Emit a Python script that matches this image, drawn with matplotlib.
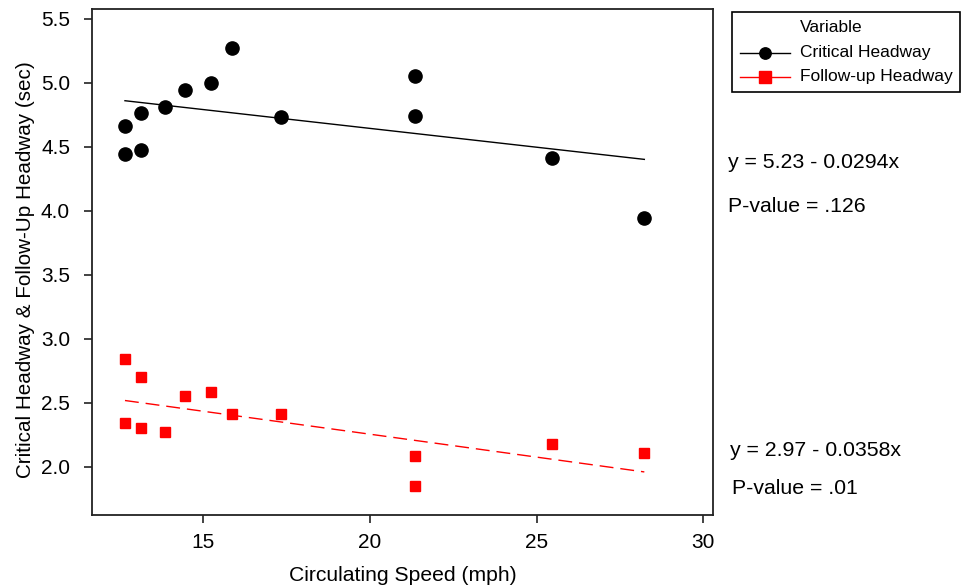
import matplotlib
matplotlib.use("Agg")
import matplotlib.pyplot as plt
from matplotlib.lines import Line2D
from matplotlib.patches import Rectangle
import numpy as np

plt.rcParams['font.family'] = ['Liberation Sans', 'DejaVu Sans']

# ---- data ----
speed = [12.65, 12.65, 13.13, 13.13, 13.85, 14.45, 15.23, 15.87, 17.33, 21.35, 21.35, 25.45, 28.23]
critical = [4.66, 4.44, 4.76, 4.47, 4.81, 4.94, 5.00, 5.27, 4.73, 5.05, 4.74, 4.41, 3.94]
followup = [2.84, 2.34, 2.70, 2.30, 2.27, 2.55, 2.58, 2.41, 2.41, 2.08, 1.85, 2.18, 2.11]

crit_fit = (5.23, -0.0294)
foll_fit = (2.97, -0.0358)

x_ticks = [15, 20, 25, 30]
y_ticks = [2.0, 2.5, 3.0, 3.5, 4.0, 4.5, 5.0, 5.5]

series_names = ["Critical Headway", "Follow-up Headway"]
legend_title = "Variable"
crit_text = ["y = 5.23 - 0.0294x", "P-value = .126"]
foll_text = ["y = 2.97 - 0.0358x", "P-value = .01"]

W, H = 961, 587
fig = plt.figure(figsize=(W / 100, H / 100), dpi=100)
ax = fig.add_axes([92.3 / W, 1 - 515 / H, (713 - 92.3) / W, (515 - 9.3) / H])

ax.plot(speed, critical, linestyle='none', marker='o', ms=9.5, color='black', zorder=3)
ax.plot(speed, followup, linestyle='none', marker='s', ms=7.8, color='#ff0000', zorder=3)

xs = np.array([min(speed), max(speed)])
ax.plot(xs, crit_fit[0] + crit_fit[1] * xs, color='black', lw=1.0)
ln, = ax.plot(xs, foll_fit[0] + foll_fit[1] * xs, color='#ff0000', lw=1.0)
ln.set_dashes([10, 5])

ax.set_xlim(11.67, 30.29)
ax.set_ylim(1.623, 5.572)
ax.set_xticks(x_ticks)
ax.set_xticklabels([str(t) for t in x_ticks])
ax.set_yticks(y_ticks)
ax.set_yticklabels([f"{t:.1f}" for t in y_ticks])
ax.tick_params(axis='both', direction='out', length=6, width=1.2, color='#222222')
ax.tick_params(axis='x', pad=7, labelsize=15)
ax.tick_params(axis='y', pad=10, labelsize=15)
for s in ax.spines.values():
    s.set_linewidth(1.3)
    s.set_color('#222222')

ax.set_xlabel("Circulating Speed (mph)", fontsize=15.2, labelpad=10)
ax.set_ylabel("Critical Headway & Follow-Up Headway (sec)", fontsize=14.9)
ax.yaxis.set_label_coords(-0.092, 0.485)

# ---- manual legend ----
def fx(px):
    return px / W

def fy(py):
    return 1 - py / H

fig.patches.append(Rectangle((fx(731.5), fy(92)), fx(959.5) - fx(731.5), fy(12.3) - fy(92),
                             transform=fig.transFigure, fill=False, edgecolor='black', lw=1.2))
fig.text(fx(800), fy(28), legend_title, fontsize=12.5, va='center', ha='left')
fig.lines.append(Line2D([fx(740), fx(790)], [fy(53), fy(53)], transform=fig.transFigure,
                        color='black', lw=1.0))
fig.lines.append(Line2D([fx(765)], [fy(53)], transform=fig.transFigure, marker='o', ms=8.2,
                        color='black', linestyle='none'))
fig.text(fx(800), fy(53), series_names[0], fontsize=12.5, va='center', ha='left')
fig.lines.append(Line2D([fx(740), fx(790)], [fy(77), fy(77)], transform=fig.transFigure,
                        color='#ff0000', lw=1.0))
fig.lines.append(Line2D([fx(765)], [fy(77)], transform=fig.transFigure, marker='s', ms=8,
                        color='#ff0000', linestyle='none'))
fig.text(fx(800), fy(77), series_names[1], fontsize=12.5, va='center', ha='left')

# ---- annotations ----
fig.text(fx(728), fy(162), crit_text[0], fontsize=15.3, va='center', ha='left')
fig.text(fx(728), fy(207), crit_text[1], fontsize=15.3, va='center', ha='left')
fig.text(fx(730), fy(450), foll_text[0], fontsize=15.3, va='center', ha='left')
fig.text(fx(732), fy(489), foll_text[1], fontsize=15.3, va='center', ha='left')

fig.savefig("out.png", dpi=100)
